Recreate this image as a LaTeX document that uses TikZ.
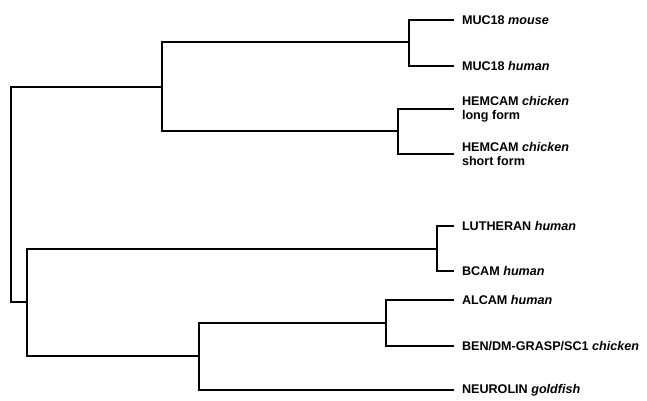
\documentclass[tikz,border=0pt]{standalone}
\usepackage{fontspec}
\setmainfont{Liberation Sans}
\begin{document}
\begin{tikzpicture}[x=1pt,y=-1pt,
  branch/.style={line width=2.2pt, line join=miter, line cap=rect},
  leaf/.style={anchor=west, inner xsep=9pt, inner ysep=0pt, outer sep=0pt, align=left,
    font=\fontsize{12.6}{14}\selectfont\bfseries}]
\useasboundingbox (0,0) rectangle (647,401);
% internal nodes
\coordinate (root) at (11,194);
\coordinate (nA) at (162,87);
\coordinate (nB) at (27,302);
\coordinate (muc) at (409,42);
\coordinate (hem) at (398,131);
\coordinate (lut) at (437,249);
\coordinate (nC) at (199,356);
\coordinate (alc) at (386,323);
% leaves
\node[leaf] (l1) at (453,20) {MUC18 \textit{mouse}};
\node[leaf] (l2) at (453,66) {MUC18 \textit{human}};
\node[leaf] (l3) at (453,109) {HEMCAM \textit{chicken}\\long form};
\node[leaf] (l4) at (453,154) {HEMCAM \textit{chicken}\\short form};
\node[leaf] (l5) at (453,226) {LUTHERAN \textit{human}};
\node[leaf] (l6) at (453,271) {BCAM \textit{human}};
\node[leaf] (l7) at (453,300) {ALCAM \textit{human}};
\node[leaf] (l8) at (453,346) {BEN/DM-GRASP/SC1 \textit{chicken}};
\node[leaf] (l9) at (453,390) {NEUROLIN \textit{goldfish}};
% branches
\draw[branch] (root) |- (nA);
\draw[branch] (root) |- (nB);
\draw[branch] (nA) |- (muc);
\draw[branch] (nA) |- (hem);
\draw[branch] (muc) |- (l1.west);
\draw[branch] (muc) |- (l2.west);
\draw[branch] (hem) |- (l3.west);
\draw[branch] (hem) |- (l4.west);
\draw[branch] (nB) |- (lut);
\draw[branch] (nB) |- (nC);
\draw[branch] (lut) |- (l5.west);
\draw[branch] (lut) |- (l6.west);
\draw[branch] (nC) |- (alc);
\draw[branch] (nC) |- (l9.west);
\draw[branch] (alc) |- (l7.west);
\draw[branch] (alc) |- (l8.west);
\end{tikzpicture}
\end{document}
